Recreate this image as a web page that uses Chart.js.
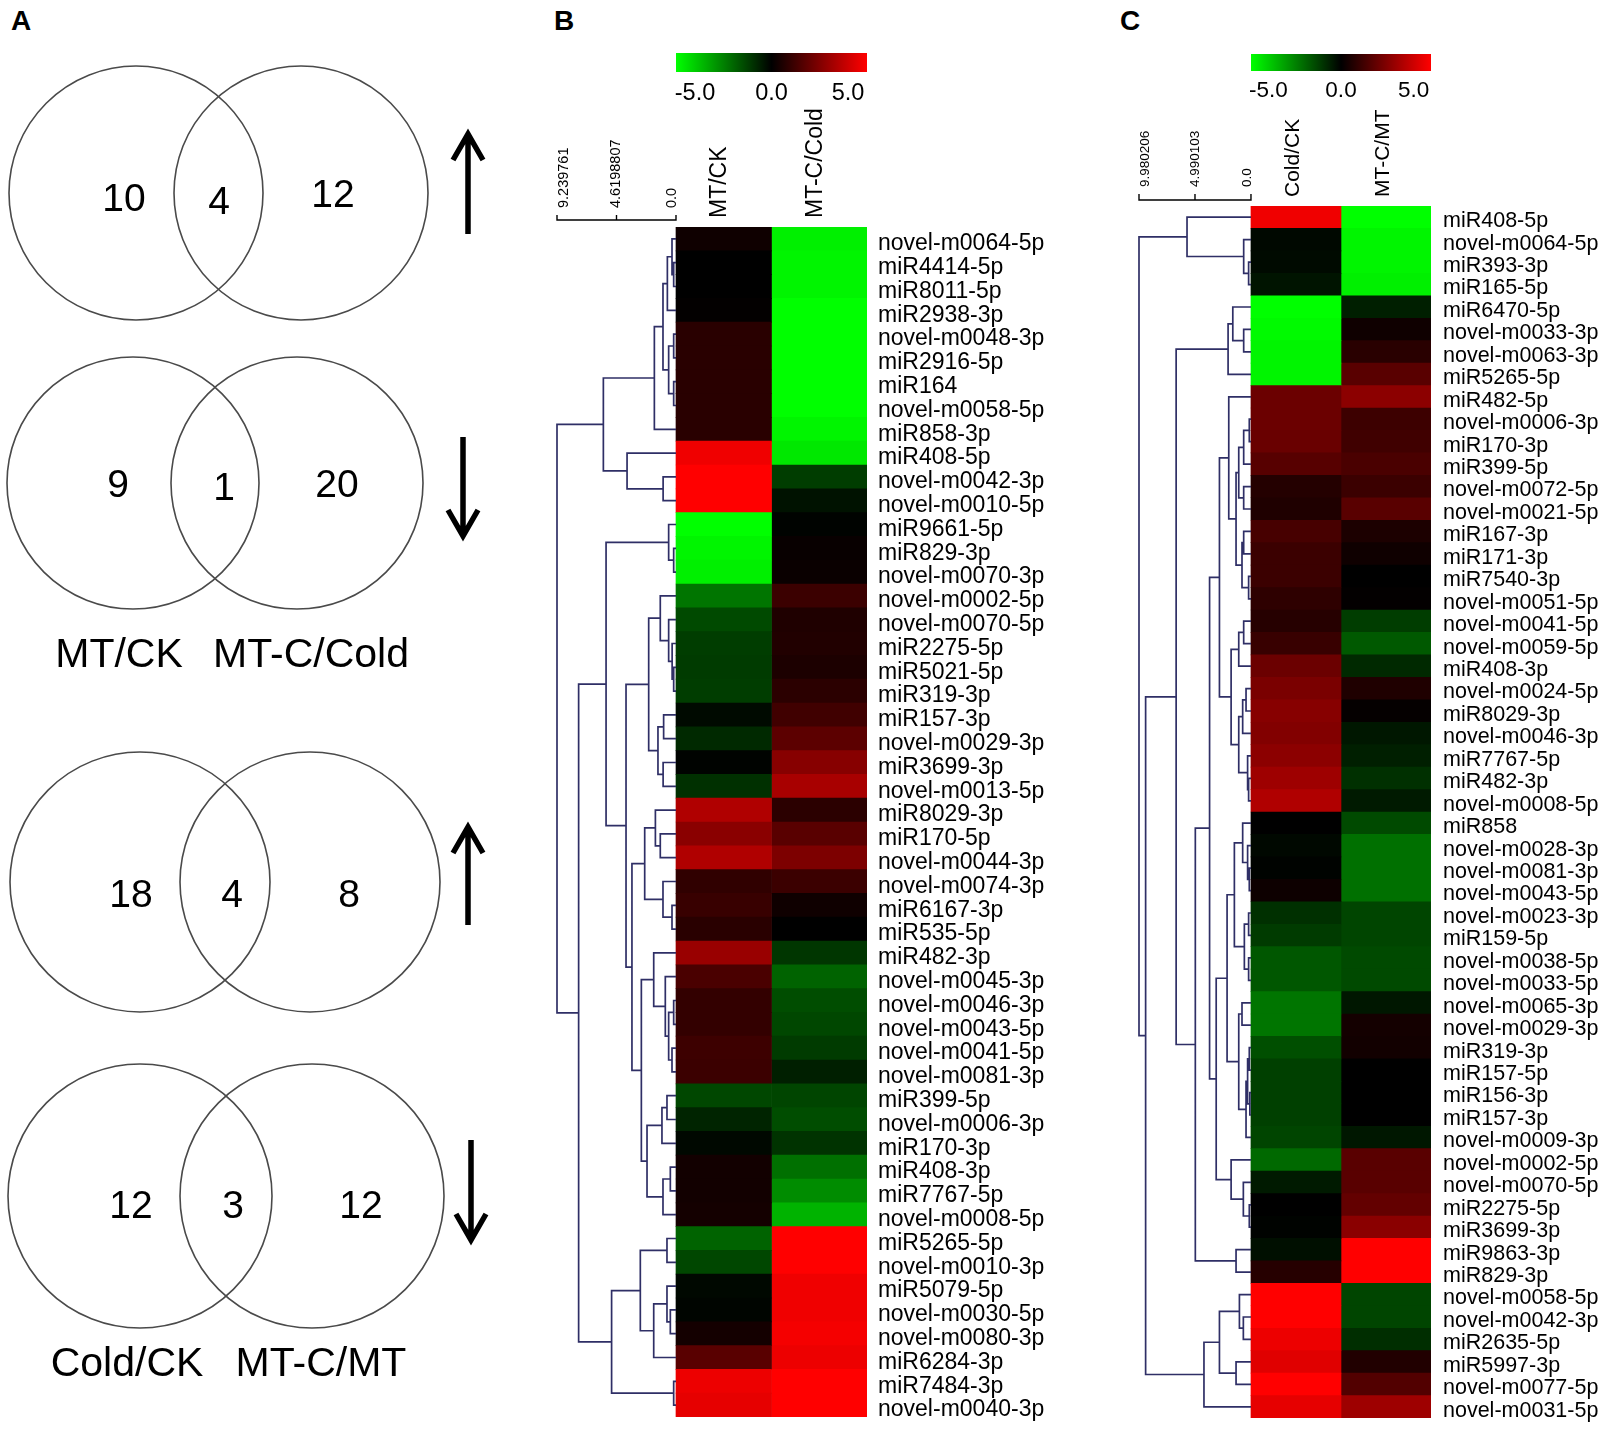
<!DOCTYPE html>
<html>
<head>
<meta charset="utf-8">
<title>miRNA Venn diagrams and heatmaps</title>
<script src="https://cdn.jsdelivr.net/npm/chart.js@4.4.1/dist/chart.umd.min.js"></script>
<style>
  html, body { margin:0; padding:0; background:#ffffff; }
  body { position:relative; width:1608px; height:1429px; overflow:hidden; }
  canvas { position:absolute; }
  .panel-letter { position:absolute; margin:0; font-family:"Liberation Sans", Arial, sans-serif;
                  font-weight:bold; font-size:28px; line-height:28px; color:#000; }
</style>
</head>
<body>
<div class="panel-letter" style="left:11px;top:7px;">A</div>
<div class="panel-letter" style="left:554px;top:7px;">B</div>
<div class="panel-letter" style="left:1120px;top:7px;">C</div>

<canvas id="vennChart" width="520" height="1429" style="left:0;top:0;"></canvas>
<canvas id="heatB" width="520" height="1429" style="left:545px;top:0;"></canvas>
<canvas id="barB" width="230" height="80" style="left:660px;top:40px;"></canvas>
<canvas id="heatC" width="488" height="1429" style="left:1120px;top:0;"></canvas>
<canvas id="barC" width="220" height="80" style="left:1230px;top:40px;"></canvas>

<script>
// ======================= DATA =======================
// Panel A: Venn counts [left only, shared, right only]
const vennCounts = [[10, 4, 12], [9, 1, 20], [18, 4, 8], [12, 3, 12]];
const vennDirections = ['up', 'down', 'up', 'down'];
const vennSetLabels = [['MT/CK', 'MT-C/Cold'], ['Cold/CK', 'MT-C/MT']];

// Colour key
const colorbarTicks = [-5, 0, 5];

// Panel B
const bColumns = ['MT/CK', 'MT-C/Cold'];
const bRows = ['novel-m0064-5p','miR4414-5p','miR8011-5p','miR2938-3p','novel-m0048-3p','miR2916-5p','miR164',
  'novel-m0058-5p','miR858-3p','miR408-5p','novel-m0042-3p','novel-m0010-5p','miR9661-5p','miR829-3p',
  'novel-m0070-3p','novel-m0002-5p','novel-m0070-5p','miR2275-5p','miR5021-5p','miR319-3p','miR157-3p',
  'novel-m0029-3p','miR3699-3p','novel-m0013-5p','miR8029-3p','miR170-5p','novel-m0044-3p','novel-m0074-3p',
  'miR6167-3p','miR535-5p','miR482-3p','novel-m0045-3p','novel-m0046-3p','novel-m0043-5p','novel-m0041-5p',
  'novel-m0081-3p','miR399-5p','novel-m0006-3p','miR170-3p','miR408-3p','miR7767-5p','novel-m0008-5p',
  'miR5265-5p','novel-m0010-3p','miR5079-5p','novel-m0030-5p','novel-m0080-3p','miR6284-3p','miR7484-3p',
  'novel-m0040-3p'];
const bMTvsCK = [0.3,0.0,0.0,0.05,0.8,0.8,0.8,0.8,0.8,4.7,5.0,5.0,-5.0,-4.8,-4.7,-2.3,-1.45,-1.2,-1.15,-1.2,
  -0.2,-0.8,-0.05,-0.95,3.45,2.7,3.45,0.95,1.1,0.8,3.0,1.45,1.0,1.0,1.2,1.15,-1.4,-0.7,-0.15,0.35,0.35,0.4,
  -1.95,-1.4,-0.15,-0.1,0.4,1.75,4.65,4.5];
const bMTCvsCold = [-4.7,-4.8,-4.8,-5,-5,-5,-5,-5,-4.8,-4.55,-1.2,-0.35,-0.05,0.15,0.2,1.15,0.6,0.65,0.55,0.85,
  1.25,1.8,2.65,3.3,0.85,1.75,2.45,1.15,0.3,0.0,-1.05,-1.95,-1.5,-1.4,-1.15,-0.6,-1.35,-1.5,-1.0,-2.2,-2.75,
  -3.5,5,5,4.7,4.7,4.8,4.65,5,5];
// dendrogram merges: [child, child, height]; numbers = row index, 'nK' = K-th merge
const bTree = [
  [1,2,0.18],[0,'n0',0.31],['n1',3,0.67],[4,5,0.18],[6,7,0.18],['n3','n4',0.57],['n2','n5',1.01],
  ['n6',8,1.68],[10,11,1.0],[9,'n8',3.80],['n7','n9',5.64],[13,14,0.18],[12,'n11',0.57],[18,19,0.18],
  [17,'n13',0.3],[16,'n14',0.57],[15,'n15',1.22],[20,21,0.96],[22,23,1.0],['n17','n18',1.40],
  ['n16','n19',2.12],[25,26,1.22],[24,'n21',1.60],[28,29,0.31],[27,'n23',1.01],['n22','n24',2.43],
  [32,33,0.18],[34,35,0.31],['n26','n27',0.57],[31,'n28',0.83],[30,'n29',1.73],[36,37,0.70],
  ['n31',38,1.09],[39,40,0.44],['n33',41,1.01],['n32','n34',2.25],['n30','n35',2.69],['n25','n36',3.42],
  ['n20','n37',3.88],['n12','n38',5.43],[42,43,0.70],[45,46,0.44],[44,'n41',0.70],['n42',47,1.73],
  ['n40','n43',2.77],[48,49,0.18],['n44','n45',5.00],['n39','n46',7.56],['n10','n47',9.239761]
];
const bScaleLabels = ['9.239761', '4.6198807', '0.0'];

// Panel C
const cColumns = ['Cold/CK', 'MT-C/MT'];
const cRows = ['miR408-5p','novel-m0064-5p','miR393-3p','miR165-5p','miR6470-5p','novel-m0033-3p','novel-m0063-3p',
  'miR5265-5p','miR482-5p','novel-m0006-3p','miR170-3p','miR399-5p','novel-m0072-5p','novel-m0021-5p',
  'miR167-3p','miR171-3p','miR7540-3p','novel-m0051-5p','novel-m0041-5p','novel-m0059-5p','miR408-3p',
  'novel-m0024-5p','miR8029-3p','novel-m0046-3p','miR7767-5p','miR482-3p','novel-m0008-5p','miR858',
  'novel-m0028-3p','novel-m0081-3p','novel-m0043-5p','novel-m0023-3p','miR159-5p','novel-m0038-5p',
  'novel-m0033-5p','novel-m0065-3p','novel-m0029-3p','miR319-3p','miR157-5p','miR156-3p','miR157-3p',
  'novel-m0009-3p','novel-m0002-5p','novel-m0070-5p','miR2275-5p','miR3699-3p','miR9863-3p','miR829-3p',
  'novel-m0058-5p','novel-m0042-3p','miR2635-5p','miR5997-3p','novel-m0077-5p','novel-m0031-5p'];
const cColdVsCK = [4.7,-0.15,-0.2,-0.4,-5,-4.9,-4.8,-4.8,2.1,2.1,2.05,1.7,0.7,0.6,1.4,1.15,1.15,0.9,0.75,1.1,
  2.1,2.4,2.65,2.55,2.75,3.1,3.45,0.0,-0.15,-0.05,0.25,-0.95,-1.15,-1.7,-1.7,-2.3,-2.3,-1.55,-1.25,-1.25,
  -1.25,-1.35,-2.05,-0.5,0.0,-0.05,-0.3,0.75,5,5,4.65,4.4,5,4.5];
const cMTCvsMT = [-5,-4.8,-4.8,-4.7,-0.6,0.3,0.8,1.75,2.75,1.2,1.25,1.45,1.15,1.75,0.55,0.3,0.0,0.05,-1.2,-1.75,
  -0.8,0.6,0.1,-0.45,-0.6,-0.95,-0.5,-1.45,-2.2,-2.2,-2.2,-1.35,-1.35,-1.45,-1.45,-0.45,0.4,0.35,0.0,0.0,0.0,
  -0.45,1.75,1.75,1.95,2.7,5,5,-1.35,-1.35,-0.9,0.65,1.6,3.1];
const cTree = [
  [2,3,0.21],[1,'n0',0.65],[0,'n1',5.70],[5,6,0.65],[4,'n3',1.62],['n4',7,2.04],[9,10,0.15],['n6',11,0.65],
  [12,13,0.65],['n7','n8',1.09],[14,15,0.65],[16,17,0.21],['n10','n11',0.80],['n9','n12',1.33],[8,'n13',1.98],
  [18,19,0.65],['n15',20,1.09],[21,22,0.44],['n17',23,0.74],[25,26,0.21],[24,'n19',0.30],['n18','n20',1.09],
  ['n16','n21',1.77],['n14','n22',2.81],[29,30,0.15],[28,'n24',0.30],[27,'n25',0.74],[31,32,0.21],
  [33,34,0.21],['n27','n28',0.59],['n26','n29',1.48],[35,36,0.80],[37,38,0.15],[39,40,0.10],['n32','n33',0.30],
  ['n34',41,0.44],['n31','n35',1.09],['n30','n36',2.13],[44,45,0.15],[43,'n38',0.68],[42,'n39',1.77],
  ['n37','n40',3.10],['n23','n41',3.69],[46,47,1.33],['n42','n43',4.96],['n5','n44',6.67],[49,50,0.68],
  [48,'n46',1.03],[51,52,1.33],['n47','n48',2.81],['n49',53,4.19],['n45','n50',9.39],['n2','n51',9.980206]
];
const cScaleLabels = ['9.980206', '4.990103', '0.0'];

// ======================= LAYOUT / STYLE =======================
const FONT = '"Liberation Sans", Arial, sans-serif';
Chart.defaults.font.family = FONT;
Chart.defaults.color = '#000';
Chart.defaults.animation = false;

const vennLayout = [
  { cy: 193, circles: [[136,127],[301,127]], numX: [124,219,333], numY: [200,203,196], arrowX: 468, arrowEnds: [234,134] },
  { cy: 483, circles: [[133,126],[297,126]], numX: [118,224,337], numY: [486,489,486], arrowX: 463, arrowEnds: [437,536] },
  { cy: 882, circles: [[140,130],[310,130]], numX: [131,232,349], numY: [896,896,896], arrowX: 468, arrowEnds: [925,827] },
  { cy: 1196, circles: [[140,132],[312,132]], numX: [131,233,361], numY: [1207,1207,1207], arrowX: 471, arrowEnds: [1140,1240] }
];
const vennLabelLayout = [ { y: 656, x: [119, 311] }, { y: 1365, x: [127, 321] } ];

function heatColor(v) {
  const t = Math.max(-1, Math.min(1, v / 5));
  return t >= 0 ? `rgb(${Math.round(255 * t)},0,0)` : `rgb(0,${Math.round(-255 * t)},0)`;
}

// ======================= PANEL A =======================
(function buildVenn() {
  const circlePts = [], radii = [];
  vennLayout.forEach(L => L.circles.forEach(([cx, r]) => { circlePts.push({ x: cx, y: L.cy }); radii.push(r); }));
  const datasets = [{
    data: circlePts, pointRadius: radii, pointHoverRadius: radii,
    pointBackgroundColor: 'rgba(0,0,0,0)', pointBorderColor: '#4a4a4a', pointBorderWidth: 1.6,
    showLine: false, clip: false
  }];
  vennDirections.forEach((dir, r) => {
    const L = vennLayout[r];
    const [tail, tip] = L.arrowEnds;
    const s = dir === 'up' ? 1 : -1;   // head opens downward for up arrows
    datasets.push({
      data: [{ x: L.arrowX, y: tail }, { x: L.arrowX, y: tip + s * 2 }, { x: null, y: null },
             { x: L.arrowX - 15, y: tip + s * 26 }, { x: L.arrowX, y: tip }, { x: L.arrowX + 15, y: tip + s * 26 }],
      showLine: true, borderColor: '#000', borderWidth: 5.5, pointRadius: 0,
      borderJoinStyle: 'miter', borderCapStyle: 'butt', spanGaps: false, clip: false
    });
  });
  const vennText = {
    id: 'vennText',
    afterDatasetsDraw(chart) {
      const { ctx, scales: { x, y } } = chart;
      ctx.save();
      ctx.fillStyle = '#000';
      ctx.textAlign = 'center';
      ctx.textBaseline = 'middle';
      ctx.font = `39px ${FONT}`;
      vennCounts.forEach((counts, r) => {
        const L = vennLayout[r];
        counts.forEach((n, k) => ctx.fillText(String(n), x.getPixelForValue(L.numX[k]), y.getPixelForValue(L.numY[k])));
      });
      ctx.font = `41px ${FONT}`;
      vennSetLabels.forEach((pair, p) => {
        const L = vennLabelLayout[p];
        pair.forEach((t, k) => ctx.fillText(t, x.getPixelForValue(L.x[k]), y.getPixelForValue(L.y)));
      });
      ctx.restore();
    }
  };
  new Chart(document.getElementById('vennChart'), {
    type: 'scatter',
    data: { datasets },
    options: {
      responsive: false, animation: false, events: [],
      layout: { padding: 0, autoPadding: false },
      scales: {
        x: { type: 'linear', min: 0, max: 520, display: false, offset: false },
        y: { type: 'linear', min: 0, max: 1429, reverse: true, display: false, offset: false }
      },
      plugins: { legend: { display: false }, tooltip: { enabled: false } }
    },
    plugins: [vennText]
  });
})();

// ======================= HEATMAPS =======================
function buildHeatmap(canvasId, rows, columns, values, tree, rootH, scaleLabels, L) {
  const W = L.dendroWidth;
  const X = h => -h / rootH * W;
  const pos = {};
  const ref = r => (typeof r === 'number' ? { y: r, h: 0 } : pos[r]);
  const dendro = [];
  tree.forEach(([a, b, h], k) => {
    const A = ref(a), B = ref(b);
    dendro.push({ x: X(A.h), y: A.y }, { x: X(h), y: A.y }, { x: X(h), y: B.y }, { x: X(B.h), y: B.y }, { x: null, y: null });
    pos['n' + k] = { y: (A.y + B.y) / 2, h };
  });
  const scaleVals = [rootH, rootH / 2, 0];
  const datasets = values.map((vals, c) => ({
    type: 'bar', indexAxis: 'y', grouped: false,
    data: vals.map((v, i) => ({ x: [c, c + 1], y: i })),
    backgroundColor: vals.map(heatColor),
    borderWidth: 0, barPercentage: 1, categoryPercentage: 1, order: 2
  }));
  datasets.push({
    type: 'line', data: dendro, borderColor: '#2f2f66', borderWidth: 1.7, pointRadius: 0,
    spanGaps: false, fill: false, clip: false, order: 1
  });
  const sb = L.scaleBarY, st = L.scaleTickY;
  datasets.push({
    type: 'line',
    data: [{ x: X(scaleVals[0]), y: st }, { x: X(scaleVals[0]), y: sb }, { x: X(0), y: sb }, { x: X(0), y: st },
           { x: null, y: null }, { x: X(scaleVals[1]), y: sb }, { x: X(scaleVals[1]), y: st }],
    borderColor: '#000', borderWidth: 1.4, pointRadius: 0, spanGaps: false, fill: false, clip: false, order: 1
  });

  const heatText = {
    id: 'heatText',
    afterDatasetsDraw(chart) {
      const { ctx, scales: { x, y } } = chart;
      ctx.save();
      ctx.fillStyle = '#000';
      ctx.font = `${L.headFont}px ${FONT}`;
      const top = y.getPixelForValue(-0.5);
      columns.forEach((t, c) => {
        ctx.save();
        ctx.translate(x.getPixelForValue(c + 0.5) + L.headDx, top - L.headGap);
        ctx.rotate(-Math.PI / 2);
        ctx.textAlign = 'left';
        ctx.textBaseline = 'middle';
        ctx.fillText(t, 0, 0);
        ctx.restore();
      });
      ctx.font = `${L.scaleFont}px ${FONT}`;
      const baselines = ['top', 'middle', 'alphabetic'];
      const tickTop = y.getPixelForValue(st);
      scaleLabels.forEach((t, k) => {
        ctx.save();
        ctx.translate(x.getPixelForValue(X(scaleVals[k])), tickTop - 7);
        ctx.rotate(-Math.PI / 2);
        ctx.textAlign = 'left';
        ctx.textBaseline = baselines[k];
        ctx.fillText(t, 0, 0);
        ctx.restore();
      });
      ctx.restore();
    }
  };

  return new Chart(document.getElementById(canvasId), {
    type: 'bar',
    data: { datasets },
    options: {
      indexAxis: 'y', responsive: false, animation: false, events: [],
      layout: { padding: { left: L.padLeft, right: 0, top: L.padTop, bottom: L.padBottom }, autoPadding: false },
      scales: {
        x: { type: 'linear', axis: 'x', min: -W, max: columns.length, display: false, offset: false },
        y: {
          type: 'linear', axis: 'y', position: 'right', reverse: true, min: -0.5, max: rows.length - 0.5,
          offset: false,
          grid: { display: false, drawTicks: false, offset: false }, border: { display: false },
          afterBuildTicks: s => { s.ticks = rows.map((_, i) => ({ value: i })); },
          afterFit: s => { s.width = L.axisWidth; s.paddingTop = 0; s.paddingBottom = 0; },
          ticks: {
            autoSkip: false, padding: L.labelPad, color: '#000', labelOffset: L.labelOffset,
            font: { size: L.labelFont }, callback: v => rows[v]
          }
        }
      },
      plugins: { legend: { display: false }, tooltip: { enabled: false } }
    },
    plugins: [heatText]
  });
}

function buildColorbar(canvasId, L) {
  return new Chart(document.getElementById(canvasId), {
    type: 'bar',
    data: {
      labels: [''],
      datasets: [{
        data: [[L.min, L.max]],
        backgroundColor: (c) => {
          const a = c.chart.chartArea;
          if (!a) return '#000';
          const g = c.chart.ctx.createLinearGradient(a.left, 0, a.right, 0);
          g.addColorStop(0, '#00ff00');
          g.addColorStop(0.5, '#000000');
          g.addColorStop(1, '#ff0000');
          return g;
        },
        borderWidth: 0, barPercentage: 1, categoryPercentage: 1
      }]
    },
    options: {
      indexAxis: 'y', responsive: false, animation: false, events: [],
      layout: { padding: { left: L.padLeft, right: L.padRight, top: L.padTop, bottom: 0 }, autoPadding: false },
      scales: {
        x: {
          type: 'linear', min: L.min, max: L.max, position: 'bottom', offset: false,
          grid: { display: false, drawTicks: false }, border: { display: false },
          afterBuildTicks: s => { s.ticks = colorbarTicks.map(v => ({ value: v })); },
          afterFit: s => { s.height = L.axisHeight; s.paddingLeft = 0; s.paddingRight = 0; },
          ticks: { autoSkip: false, maxRotation: 0, padding: L.tickPad, color: '#000',
                   font: { size: L.font }, callback: v => v.toFixed(1) }
        },
        y: { display: false }
      },
      plugins: { legend: { display: false }, tooltip: { enabled: false } }
    }
  });
}

buildHeatmap('heatB', bRows, bColumns, [bMTvsCK, bMTCvsCold], bTree, 9.239761, bScaleLabels, {
  dendroWidth: 1.246, padLeft: 12, padTop: 227, padBottom: 12, axisWidth: 198,
  labelPad: 11, labelFont: 23, labelOffset: 5, headFont: 23, headGap: 9, headDx: -4,
  scaleFont: 14.5, scaleBarY: -0.794, scaleTickY: -1.004
});
buildHeatmap('heatC', cRows, cColumns, [cColdVsCK, cMTCvsMT], cTree, 9.980206, cScaleLabels, {
  dendroWidth: 1.244, padLeft: 19, padTop: 206, padBottom: 11, axisWidth: 177,
  labelPad: 12, labelFont: 21.5, labelOffset: 4, headFont: 21, headGap: 9, headDx: -3,
  scaleFont: 13.5, scaleBarY: -0.767, scaleTickY: -1.035
});
buildColorbar('barB', { min: -6.24, max: 6.24, padLeft: 16, padRight: 23, padTop: 13, axisHeight: 48, tickPad: 7, font: 23.5 });
buildColorbar('barC', { min: -6.2, max: 6.2, padLeft: 21, padRight: 19, padTop: 14, axisHeight: 49, tickPad: 6.5, font: 22.5 });
</script>
</body>
</html>
